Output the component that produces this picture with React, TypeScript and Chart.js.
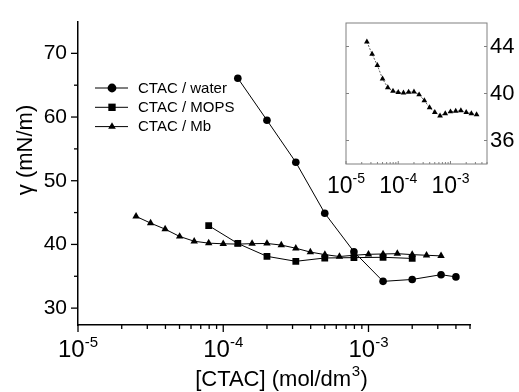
import React, { useEffect, useRef } from 'react';
import { Chart, registerables } from 'chart.js';
Chart.register(...registerables);

const FONT = '"Liberation Sans", Arial, Helvetica, sans-serif';

// ---- data ----
const waterX = [1.26e-4, 2.0e-4, 3.16e-4, 5.0e-4, 7.94e-4, 1.26e-3, 2.0e-3, 3.16e-3, 4.0e-3];
const waterY = [66.1, 59.5, 52.9, 44.9, 38.85, 34.2, 34.5, 35.25, 34.9];
const mopsX = [7.94e-5, 1.26e-4, 2.0e-4, 3.16e-4, 5.0e-4, 7.94e-4, 1.26e-3, 2.0e-3];
const mopsY = [42.95, 40.15, 38.13, 37.35, 37.87, 37.93, 37.98, 37.8];
const mbX = [2.51e-5, 3.16e-5, 3.98e-5, 5.01e-5, 6.31e-5, 7.94e-5, 1.0e-4, 1.26e-4, 1.58e-4, 2.0e-4, 2.51e-4,
  3.16e-4, 3.98e-4, 5.01e-4, 6.31e-4, 7.94e-4, 1.0e-3, 1.26e-3, 1.58e-3, 2.0e-3, 2.51e-3, 3.16e-3];
const mbY = [44.4, 43.35, 42.4, 41.25, 40.5, 40.2, 40.1, 40.05, 40.12, 40.15, 39.9,
  39.4, 38.8, 38.4, 38.1, 38.3, 38.45, 38.5, 38.55, 38.4, 38.3, 38.2];

const seriesLabels = ['CTAC / water', 'CTAC / MOPS', 'CTAC / Mb'];
const seriesStyles = ['circle', 'rect', 'triangle'];
const xMajorExps = [-5, -4, -3];
const yMajorTicks = [30, 40, 50, 60, 70];
const yMinorTicks = [35, 45, 55, 65];
const insetYTicks = [36, 40, 44];
const xTitleMain = '[CTAC] (mol/dm';
const xTitleSup = '3';
const yTitle = 'γ (mN/m)';

const pts = (xs: number[], ys: number[]) => xs.map((x, i) => ({ x, y: ys[i] }));

function drawMarker(ctx: CanvasRenderingContext2D, style: string, x: number, y: number, r: number) {
  ctx.beginPath();
  if (style === 'circle') {
    ctx.arc(x, y, r, 0, Math.PI * 2);
  } else if (style === 'rect') {
    const s = Math.SQRT1_2 * r;
    ctx.rect(x - s, y - s, 2 * s, 2 * s);
  } else {
    ctx.moveTo(x, y - r);
    ctx.lineTo(x + r * Math.sin(Math.PI / 3), y + r * 0.5);
    ctx.lineTo(x - r * Math.sin(Math.PI / 3), y + r * 0.5);
    ctx.closePath();
  }
  ctx.fill();
}

function drawPower(ctx: CanvasRenderingContext2D, cx: number, base: number, exp: string, big: number, small: number, rise: number) {
  ctx.font = `${big}px ${FONT}`;
  const w1 = ctx.measureText('10').width;
  ctx.font = `${small}px ${FONT}`;
  const w2 = ctx.measureText(exp).width;
  const x0 = cx - (w1 + w2) / 2;
  ctx.textAlign = 'left';
  ctx.textBaseline = 'alphabetic';
  ctx.font = `${big}px ${FONT}`;
  ctx.fillText('10', x0, base);
  ctx.font = `${small}px ${FONT}`;
  ctx.fillText(exp, x0 + w1, base - rise);
}

function line(ctx: CanvasRenderingContext2D, x1: number, y1: number, x2: number, y2: number) {
  ctx.beginPath();
  ctx.moveTo(x1, y1);
  ctx.lineTo(x2, y2);
  ctx.stroke();
}

const mainDecor = {
  id: 'mainDecor',
  afterDraw(chart: any) {
    const { ctx, chartArea, scales } = chart;
    const { left, bottom } = chartArea;
    const x = scales.x, y = scales.y;
    ctx.save();
    ctx.strokeStyle = '#000';
    ctx.fillStyle = '#000';
    ctx.lineWidth = 1.3;
    // x ticks (outside)
    for (const e of xMajorExps) {
      for (let k = 1; k <= 9; k++) {
        const v = k * Math.pow(10, e);
        if (v > x.max * 1.0001) break;
        const px = x.getPixelForValue(v);
        line(ctx, px, bottom, px, bottom + (k === 1 ? 7 : 4));
      }
    }
    // y ticks (outside)
    for (const v of yMajorTicks) {
      const py = y.getPixelForValue(v);
      line(ctx, left, py, left - 7, py);
    }
    for (const v of yMinorTicks) {
      const py = y.getPixelForValue(v);
      line(ctx, left, py, left - 4, py);
    }
    // x tick labels
    for (const e of xMajorExps) {
      const px = x.getPixelForValue(Math.pow(10, e));
      drawPower(ctx, px, 356.5, String(e), 24, 15, 10);
    }
    // x title
    ctx.font = `22px ${FONT}`;
    const wa = ctx.measureText(xTitleMain).width;
    const wc = ctx.measureText(')').width;
    ctx.font = `15px ${FONT}`;
    const wb = ctx.measureText(xTitleSup).width;
    const x0 = 281 - (wa + wb + wc) / 2;
    ctx.textAlign = 'left';
    ctx.textBaseline = 'alphabetic';
    ctx.font = `22px ${FONT}`;
    ctx.fillText(xTitleMain, x0, 386);
    ctx.font = `15px ${FONT}`;
    ctx.fillText(xTitleSup, x0 + wa + 0.5, 376);
    ctx.font = `22px ${FONT}`;
    ctx.fillText(')', x0 + wa + wb + 1, 386);
    // y title
    ctx.save();
    ctx.translate(32, 150);
    ctx.rotate(-Math.PI / 2);
    ctx.textAlign = 'center';
    ctx.textBaseline = 'alphabetic';
    ctx.font = `22px ${FONT}`;
    ctx.fillText(yTitle, 0, 0);
    ctx.restore();
    // legend
    chart.data.datasets.forEach((ds: any, i: number) => {
      const ry = 88 + i * 19.3;
      ctx.lineWidth = 1;
      line(ctx, 95, ry, 128, ry);
      drawMarker(ctx, ds.pointStyle, 112, ry, ds.pointStyle === 'rect' ? 5.2 : 4.4);
      ctx.font = `15px ${FONT}`;
      ctx.textAlign = 'left';
      ctx.textBaseline = 'middle';
      ctx.fillText(ds.label, 138, ry + 0.5);
    });
    ctx.restore();
  },
};

const insetDecor = {
  id: 'insetDecor',
  afterDraw(chart: any) {
    const { ctx, chartArea, scales } = chart;
    const { left, right, top, bottom } = chartArea;
    const x = scales.x, y = scales.y;
    ctx.save();
    ctx.strokeStyle = '#808080';
    ctx.lineWidth = 1;
    ctx.strokeRect(left, top, right - left, bottom - top);
    for (const e of xMajorExps) {
      for (let k = 1; k <= 9; k++) {
        const v = k * Math.pow(10, e);
        if (v > x.max * 1.0001) break;
        const px = x.getPixelForValue(v);
        line(ctx, px, bottom, px, bottom - (k === 1 ? 3 : 2));
      }
    }
    for (const v of insetYTicks) {
      const py = y.getPixelForValue(v);
      line(ctx, left, py, left + 3, py);
      line(ctx, right, py, right - 3, py);
    }
    ctx.fillStyle = '#000';
    for (const e of xMajorExps) {
      const px = x.getPixelForValue(Math.pow(10, e));
      drawPower(ctx, px, 193, String(e), 23, 14, 10);
    }
    ctx.restore();
  },
};

export default function App() {
  const mainRef = useRef<HTMLCanvasElement>(null);
  const insetRef = useRef<HTMLCanvasElement>(null);

  useEffect(() => {
    const common = {
      showLine: true,
      borderColor: '#000',
      backgroundColor: '#000',
      pointBackgroundColor: '#000',
      pointBorderColor: '#000',
      pointBorderWidth: 0,
      borderWidth: 1,
    };
    const main = new Chart(mainRef.current!, {
      type: 'scatter',
      data: {
        datasets: [
          { ...common, label: seriesLabels[0], data: pts(waterX, waterY), pointStyle: seriesStyles[0], pointRadius: 3.8 },
          { ...common, label: seriesLabels[1], data: pts(mopsX, mopsY), pointStyle: seriesStyles[1], pointRadius: 4.8 },
          { ...common, label: seriesLabels[2], data: pts(mbX, mbY), pointStyle: seriesStyles[2], pointRadius: 4.3 },
        ],
      } as any,
      options: {
        responsive: false,
        animation: false,
        devicePixelRatio: 1,
        layout: { padding: { left: 0, right: 49, top: 11, bottom: 0 } },
        plugins: { legend: { display: false }, tooltip: { enabled: false } },
        scales: {
          x: {
            type: 'logarithmic',
            position: 'bottom',
            min: 1e-5,
            max: 5e-3,
            grid: { display: false, drawTicks: false },
            border: { display: true, color: '#000', width: 1.5 },
            ticks: { display: false },
            afterFit: (s: any) => { s.height = 67; },
          },
          y: {
            type: 'linear',
            position: 'left',
            min: 27.35,
            max: 75,
            grid: { display: false, drawTicks: false },
            border: { display: true, color: '#000', width: 1.5 },
            ticks: { color: '#000', font: { family: FONT, size: 21, lineHeight: 1 }, padding: 11, autoSkip: false },
            afterBuildTicks: (s: any) => { s.ticks = yMajorTicks.map((v) => ({ value: v })); },
            afterFit: (s: any) => { s.width = 78; },
          },
        },
      } as any,
      plugins: [mainDecor],
    });

    const inset = new Chart(insetRef.current!, {
      type: 'scatter',
      data: {
        datasets: [
          {
            ...common,
            label: seriesLabels[2],
            data: pts(mbX, mbY),
            pointStyle: seriesStyles[2],
            pointRadius: 3.3,
            borderWidth: 0.8,
            borderColor: '#333',
            borderDash: [2, 1.5],
          },
        ],
      } as any,
      options: {
        responsive: false,
        animation: false,
        devicePixelRatio: 1,
        layout: { padding: { left: 36, right: 0, top: 23, bottom: 0 } },
        plugins: { legend: { display: false }, tooltip: { enabled: false } },
        scales: {
          x: {
            type: 'logarithmic',
            position: 'bottom',
            min: 1e-5,
            max: 5e-3,
            grid: { display: false, drawTicks: false },
            border: { display: false },
            ticks: { display: false },
            afterFit: (s: any) => { s.height = 36; },
          },
          y: {
            type: 'linear',
            position: 'right',
            min: 34,
            max: 46,
            grid: { display: false, drawTicks: false },
            border: { display: false },
            ticks: { color: '#000', font: { family: FONT, size: 22, lineHeight: 1 }, padding: 3, autoSkip: false },
            afterBuildTicks: (s: any) => { s.ticks = insetYTicks.map((v) => ({ value: v })); },
            afterFit: (s: any) => { s.width = 32; },
          },
        },
      } as any,
      plugins: [insetDecor],
    });

    return () => {
      main.destroy();
      inset.destroy();
    };
  }, []);

  return (
    <div style={{ position: 'fixed', left: 0, top: 0, width: 519, height: 392, background: '#fff', overflow: 'hidden' }}>
      <canvas ref={mainRef} width={519} height={392} style={{ position: 'absolute', left: 0, top: 0 }} />
      <canvas ref={insetRef} width={209} height={200} style={{ position: 'absolute', left: 310, top: 0 }} />
    </div>
  );
}
